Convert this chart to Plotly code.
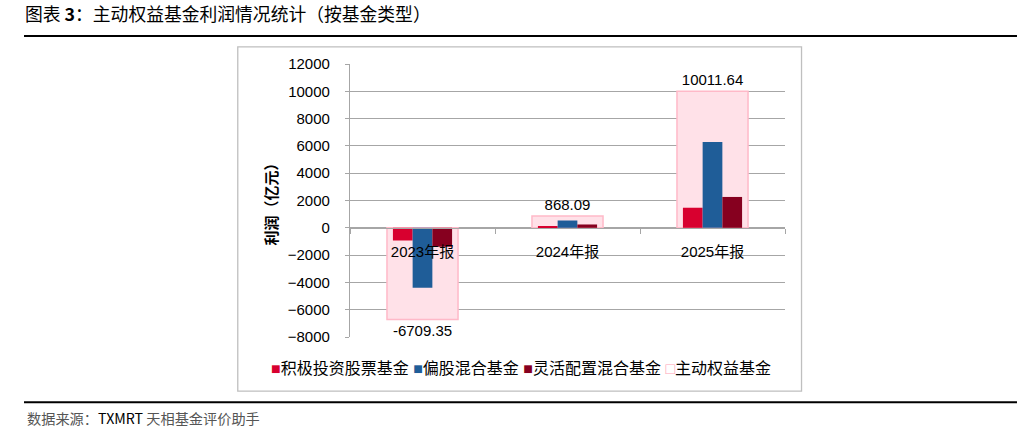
import plotly.graph_objects as go

# 数据
categories = ["2023年报", "2024年报", "2025年报"]
jiji_gupiao = [-930, 90, 1470]          # 积极投资股票基金
pian_gu = [-4390, 535, 6280]            # 偏股混合基金
linghuo = [-1390, 243, 2260]            # 灵活配置混合基金
zhudong_total = [-6709.35, 868.09, 10011.64]  # 主动权益基金

y_ticks = [-8000, -6000, -4000, -2000, 0, 2000, 4000, 6000, 8000, 10000, 12000]

FONT = "Liberation Sans, Arial, Noto Sans CJK SC, sans-serif"
CJK = "Noto Sans CJK SC, Liberation Sans, sans-serif"

PINK_FILL = "#ffe1e8"
PINK_LINE = "#ffb9c8"

fig = go.Figure()

# 主动权益基金 (breiter Balken im Hintergrund)
fig.add_bar(
    x=categories, y=zhudong_total, name="主动权益基金",
    width=0.49, offset=-0.245,
    marker=dict(color=PINK_FILL, line=dict(color=PINK_LINE, width=1.5)),
    texttemplate="%{y:.2f}", textposition="outside",
    textfont=dict(family=FONT, size=15, color="#000"),
    cliponaxis=False,
)

bar_w = 0.136
series = [
    ("积极投资股票基金", jiji_gupiao, "#d8002f", -0.204),
    ("偏股混合基金", pian_gu, "#1f5d98", -0.068),
    ("灵活配置混合基金", linghuo, "#86001f", 0.068),
]
for name, vals, col, off in series:
    fig.add_bar(x=categories, y=vals, name=name, width=bar_w, offset=off,
                marker=dict(color=col, line=dict(width=0)))

fig.update_layout(
    width=1024, height=439,
    margin=dict(l=350, r=239, t=64, b=102),
    paper_bgcolor="white", plot_bgcolor="white",
    barmode="overlay",
    showlegend=False,
    title=dict(text="图表 <b>3</b>：主动权益基金利润情况统计（按基金类型）",
               xref="container", x=25 / 1024, xanchor="left",
               y=1 - 15 / 439, yanchor="middle",
               font=dict(family=CJK, size=17.8, color="#000")),
    font=dict(family=FONT, size=15, color="#000"),
)

fig.update_yaxes(
    range=[-8000, 12000], tickvals=y_ticks, tickformat="d",
    showgrid=True, gridcolor="#a6a6a6", gridwidth=1.2,
    zeroline=False, showline=True, linecolor="#a6a6a6", linewidth=1.2,
    ticks="outside", ticklen=4, tickcolor="#a6a6a6",
    ticklabelstandoff=12,
    tickfont=dict(family=FONT, size=15, color="#000"),
    title=dict(text="<b>利润（亿元）</b>", standoff=6,
               font=dict(family=CJK, size=15, color="#000")),
)

fig.update_xaxes(
    anchor="free", position=0.4,
    showline=True, linecolor="#a6a6a6", linewidth=1.2,
    ticks="outside", tickson="boundaries", ticklen=5, tickcolor="#a6a6a6",
    ticklabelstandoff=10,
    showgrid=False,
    tickfont=dict(family=FONT, size=15, color="#000"),
)

# Rahmen und Linien
fig.add_shape(type="rect", xref="paper", yref="paper",
              x0=-0.258, x1=1.038, y0=-0.198, y1=1.063,
              line=dict(color="#bfbfbf", width=1.3), fillcolor="rgba(0,0,0,0)", layer="below")
for yy in [1.1026, -0.2392]:
    fig.add_shape(type="line", xref="paper", yref="paper",
                  x0=-0.7494, x1=1.5333, y0=yy, y1=yy,
                  line=dict(color="#000", width=2))

# Legende (kompakt wie im Original)
legend_items = [(s[0], s[2], "■") for s in series] + [("主动权益基金", "#ffa3b8", "□")]
legend_text = " ".join(
    f"<span style='color:{c}'>{sym}</span>{n}" for n, c, sym in legend_items
)
fig.add_annotation(xref="paper", yref="paper", x=0.393, y=-0.1136,
                   xanchor="center", yanchor="middle", showarrow=False,
                   text=legend_text, font=dict(family=FONT, size=16, color="#000"))

fig.add_annotation(xref="paper", yref="paper", x=-0.747, y=-0.2967,
                   xanchor="left", yanchor="middle", showarrow=False,
                   text="<span style='color:#555'>数据来源：</span>TXMRT <span style='color:#555'>天相基金评价助手</span>",
                   font=dict(family=CJK, size=14.2, color="#000"))

# Standard-Seitenrand (8px) des Browsers entfernen
fig.write_html("out.html", config={"displayModeBar": False},
               post_script="document.body.style.margin='0';")
